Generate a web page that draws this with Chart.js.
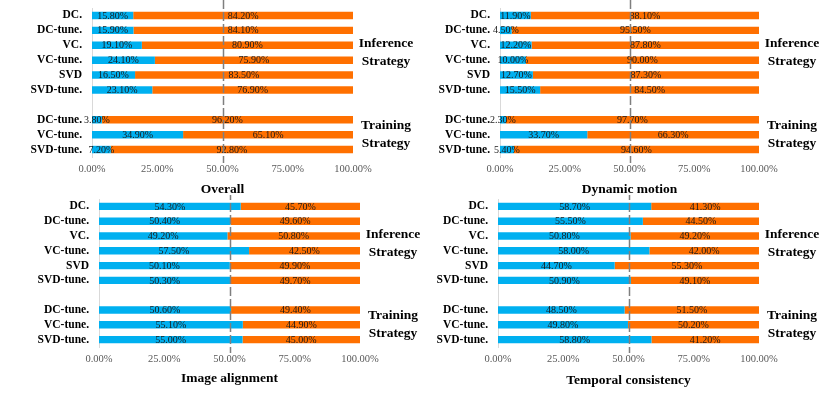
<!DOCTYPE html>
<html>
<head>
<meta charset="utf-8">
<script src="https://cdn.jsdelivr.net/npm/chart.js@4.4.1/dist/chart.umd.min.js"></script>
<style>
  html, body { margin: 0; padding: 0; background: #fff; overflow: hidden; }
  #wrap { position: relative; width: 830px; height: 395px; }
  .panel { position: absolute; }
</style>
</head>
<body>
<div id="wrap">
  <div class="panel" style="left:0;top:0"><canvas id="c0" width="430" height="200"></canvas></div>
  <div class="panel" style="left:415px;top:0"><canvas id="c1" width="415" height="200"></canvas></div>
  <div class="panel" style="left:0;top:195px"><canvas id="c2" width="430" height="200"></canvas></div>
  <div class="panel" style="left:415px;top:195px"><canvas id="c3" width="415" height="200"></canvas></div>
</div>
<script>
// row labels, the empty one is the gap between the two groups
var categories = ['DC.', 'DC-tune.', 'VC.', 'VC-tune.', 'SVD', 'SVD-tune.', '', 'DC-tune.', 'VC-tune.', 'SVD-tune.'];
var titles = ['Overall', 'Dynamic motion', 'Image alignment', 'Temporal consistency'];
var tickValues = [0, 25, 50, 75, 100];
var groupNames = [['Inference', 'Strategy'], ['Training', 'Strategy']];
var groupRows = [[0, 5], [7, 9]];

var overallBlue   = [15.8, 15.9, 19.1, 24.1, 16.5, 23.1, null, 3.8, 34.9, 7.2];
var overallOrange = [84.2, 84.1, 80.9, 75.9, 83.5, 76.9, null, 96.2, 65.1, 92.8];
var motionBlue    = [11.9, 4.5, 12.2, 10.0, 12.7, 15.5, null, 2.3, 33.7, 5.4];
var motionOrange  = [88.1, 95.5, 87.8, 90.0, 87.3, 84.5, null, 97.7, 66.3, 94.6];
var alignBlue     = [54.3, 50.4, 49.2, 57.5, 50.1, 50.3, null, 50.6, 55.1, 55.0];
var alignOrange   = [45.7, 49.6, 50.8, 42.5, 49.9, 49.7, null, 49.4, 44.9, 45.0];
var temporalBlue  = [58.7, 55.5, 50.8, 58.0, 44.7, 50.9, null, 48.5, 49.8, 58.8];
var temporalOrange= [41.3, 44.5, 49.2, 42.0, 55.3, 49.1, null, 51.5, 50.2, 41.2];

var blue = '#00b0f0';
var orange = '#ff7000';
var serif = '"Liberation Serif", "Times New Roman", serif';

// plot box of each panel, in canvas pixels
var panels = [
  {id: 'c0', w: 430, h: 200, left: 92, right: 353, top: 8, bottom: 157, titlePad: 2, title: titles[0], a: overallBlue, b: overallOrange},
  {id: 'c1', w: 415, h: 200, left: 85, right: 344, top: 8, bottom: 157, titlePad: 2, title: titles[1], a: motionBlue, b: motionOrange},
  {id: 'c2', w: 430, h: 200, left: 99, right: 360, top: 4, bottom: 152, titlePad: 8, title: titles[2], a: alignBlue, b: alignOrange},
  {id: 'c3', w: 415, h: 200, left: 83, right: 344, top: 4, bottom: 152, titlePad: 6, title: titles[3], a: temporalBlue, b: temporalOrange}
];

var segmentLabels = {
  id: 'segmentLabels',
  afterDatasetsDraw(chart) {
    var ctx = chart.ctx;
    ctx.save();
    ctx.font = '10px ' + serif;
    ctx.fillStyle = '#1a1a1a';
    ctx.textAlign = 'center';
    ctx.textBaseline = 'middle';
    chart.data.datasets.forEach(function(ds, di) {
      chart.getDatasetMeta(di).data.forEach(function(bar, i) {
        var v = ds.data[i];
        if (v == null) return;
        var p = bar.getProps(['x', 'base', 'y'], true);
        ctx.fillText(v.toFixed(2) + '%', (p.x + p.base) / 2, p.y + 0.5);
      });
    });
    ctx.restore();
  }
};

var midLine = {
  id: 'midLine',
  afterDraw(chart) {
    var ctx = chart.ctx;
    var a = chart.chartArea;
    var x = Math.round(chart.scales.x.getPixelForValue(50)) + 0.5;
    ctx.save();
    ctx.strokeStyle = '#7f7f7f';
    ctx.lineWidth = 1.5;
    ctx.setLineDash([9, 3]);
    ctx.beginPath();
    ctx.moveTo(x, a.top - 8);
    ctx.lineTo(x, a.bottom + 6);
    ctx.stroke();
    ctx.restore();
  }
};

var groupLabels = {
  id: 'groupLabels',
  afterDraw(chart) {
    var ctx = chart.ctx;
    var y = chart.scales.y;
    var a = chart.chartArea;
    ctx.save();
    ctx.font = 'bold 13.5px ' + serif;
    ctx.fillStyle = '#000';
    ctx.textAlign = 'center';
    ctx.textBaseline = 'middle';
    groupRows.forEach(function(r, g) {
      var cy = (y.getPixelForValue(r[0]) + y.getPixelForValue(r[1])) / 2;
      ctx.fillText(groupNames[g][0], a.right + 33, cy - 9);
      ctx.fillText(groupNames[g][1], a.right + 33, cy + 9);
    });
    ctx.restore();
  }
};

panels.forEach(function(p) {
  new Chart(document.getElementById(p.id), {
    type: 'bar',
    data: {
      labels: categories,
      datasets: [
        {data: p.a, backgroundColor: blue, barPercentage: 0.5, categoryPercentage: 1},
        {data: p.b, backgroundColor: orange, barPercentage: 0.5, categoryPercentage: 1}
      ]
    },
    options: {
      responsive: false,
      animation: false,
      indexAxis: 'y',
      layout: {padding: {top: p.top, right: p.w - p.right, left: 0, bottom: 0}},
      plugins: {legend: {display: false}, tooltip: {enabled: false}},
      scales: {
        x: {
          stacked: true, min: 0, max: 100,
          afterBuildTicks: function(s) { s.ticks = tickValues.map(function(v) { return {value: v}; }); },
          grid: {display: false, drawTicks: false},
          border: {display: false},
          ticks: {
            font: {family: serif, size: 10.5}, color: '#595959', padding: 6,
            maxRotation: 0, autoSkip: false,
            callback: function(v) { return v.toFixed(2) + '%'; }
          },
          title: {display: true, text: p.title, color: '#000',
                  font: {family: serif, size: 13.5, weight: 'bold'}, padding: {top: 4, bottom: p.titlePad}},
          afterFit: function(s) { s.height = p.h - p.bottom; }
        },
        y: {
          stacked: true,
          grid: {display: false, drawTicks: false},
          border: {display: true, color: '#d9d9d9', width: 1},
          ticks: {font: {family: serif, size: 11.5, weight: 'bold'}, color: '#000', padding: 10, autoSkip: false},
          afterFit: function(s) { s.width = p.left; s.paddingTop = 0; s.paddingBottom = 0; }
        }
      }
    },
    plugins: [segmentLabels, groupLabels, midLine]
  });
});
</script>
</body>
</html>
